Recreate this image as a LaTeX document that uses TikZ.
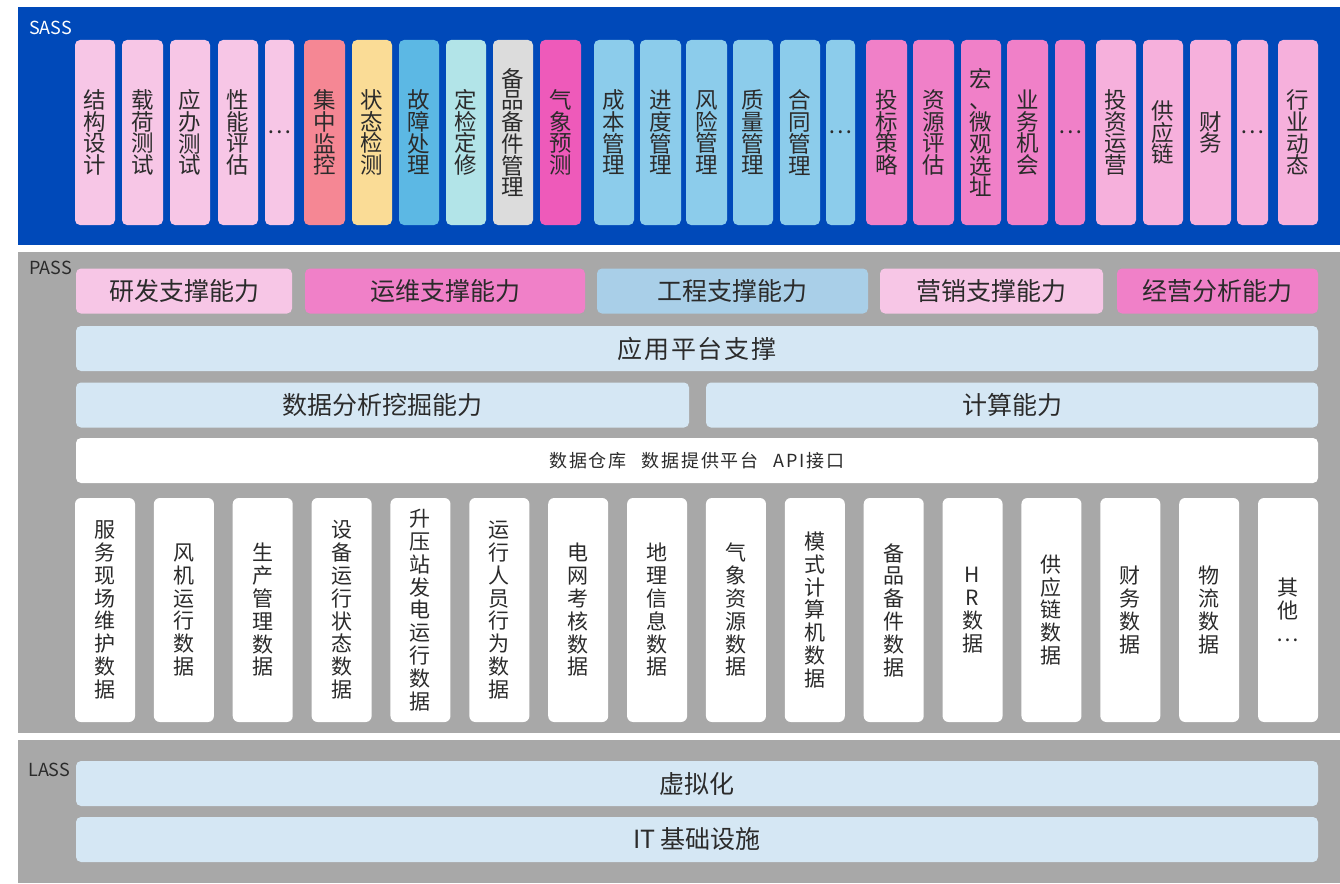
\documentclass[tikz,border=0pt]{standalone}
\usepackage{fontspec}
\setmainfont{Noto Sans CJK SC}
\usepackage{tikz}
\usetikzlibrary{calc,positioning}

\definecolor{sassblue}{HTML}{0049B9}
\definecolor{bandgray}{HTML}{A8A8A8}
\definecolor{barblue}{HTML}{D5E7F4}
\definecolor{txt}{HTML}{2B2B2B}
\definecolor{pinkA}{HTML}{F7C6E6}
\definecolor{redA}{HTML}{F58794}
\definecolor{yellowA}{HTML}{FADC96}
\definecolor{blueA}{HTML}{5CB8E4}
\definecolor{cyanA}{HTML}{B2E4E8}
\definecolor{grayA}{HTML}{DCDCDC}
\definecolor{magentaA}{HTML}{EE5ABA}
\definecolor{skyA}{HTML}{8CCCEB}
\definecolor{pinkB}{HTML}{F080C8}
\definecolor{pinkC}{HTML}{F6B0DC}
\definecolor{engblue}{HTML}{A9CFE8}

\begin{document}
\begin{tikzpicture}[x=1pt,y=-1pt,every text node part/.style={align=center}]
		\tikzstyle{every node}=[font=\fontsize{22.5}{21.7}\selectfont,text=txt,inner sep=0pt];
		\tikzstyle{app}=[rounded corners=5pt,minimum height=185pt];
		\tikzstyle{bar}=[rounded corners=5pt,fill=barblue,minimum height=45pt,font=\fontsize{25}{25}\selectfont];
		\tikzstyle{datacol}=[rounded corners=6pt,fill=white,minimum width=60pt,minimum height=224pt,font=\fontsize{21}{22.8}\selectfont];
		\tikzstyle{layer}=[font=\fontsize{18}{18}\selectfont,anchor=west];

		\useasboundingbox (0,0) rectangle (1340,883);
		\fill[sassblue] (18,7) rectangle (1340,245);
		\fill[bandgray] (18,252) rectangle (1340,733);
		\fill[bandgray] (18,740) rectangle (1340,883);

		\node[layer,text=white] (sass) at (29,28) {SASS};
		\node[layer] (pass) at (29,268) {PASS};
		\node[layer] (lass) at (28,770) {LASS};

		\foreach \x/\w/\c/\t [count=\i] in {
			75/40/pinkA/{结\\构\\设\\计}, 122/41/pinkA/{载\\荷\\测\\试}, 170/40/pinkA/{应\\办\\测\\试}, 218/40/pinkA/{性\\能\\评\\估}, 265/29/pinkA/{…},
			304/41/redA/{集\\中\\监\\控}, 352/40/yellowA/{状\\态\\检\\测}, 399/40/blueA/{故\\障\\处\\理}, 446/40/cyanA/{定\\检\\定\\修}, 493/40/grayA/{备\\品\\备\\件\\管\\理}, 540/41/magentaA/{气\\象\\预\\测},
			594/40/skyA/{成\\本\\管\\理}, 640/41/skyA/{进\\度\\管\\理}, 686/41/skyA/{风\\险\\管\\理}, 733/40/skyA/{质\\量\\管\\理}, 780/40/skyA/{合\\同\\管\\理}, 826/29/skyA/{…},
			866/41/pinkB/{投\\标\\策\\略}, 913/41/pinkB/{资\\源\\评\\估}, 961/40/pinkB/{宏\\、\\微\\观\\选\\址}, 1007/41/pinkB/{业\\务\\机\\会}, 1055/30/pinkB/{…},
			1096/40/pinkC/{投\\资\\运\\营}, 1143/40/pinkC/{供\\应\\链}, 1190/41/pinkC/{财\\务}, 1237/31/pinkC/{…}, 1278/40/pinkC/{行\\业\\动\\态}}
			\node[app,fill=\c,minimum width=\w] (app\i) at (\x+\w/2,132.5) {\t};

		\node[bar,fill=pinkA,minimum width=216pt] (rd) at (184,291) {研发支撑能力};
		\node[bar,fill=pinkB,minimum width=280pt] (om) at (445,291) {运维支撑能力};
		\node[bar,fill=engblue,minimum width=271pt] (eng) at (732.5,291) {工程支撑能力};
		\node[bar,fill=pinkA,minimum width=223pt] (mkt) at (991.5,291) {营销支撑能力};
		\node[bar,fill=pinkB,minimum width=201pt] (biz) at (1217.5,291) {经营分析能力};
		\node[bar,minimum width=1242pt] (platform) at (697,348.5) {\addfontfeatures{LetterSpace=7}应用平台支撑};
		\node[bar,minimum width=613pt] (mining) at (382.5,405) {数据分析挖掘能力};
		\node[bar,minimum width=612pt] (compute) at (1012,405) {计算能力};
		\node[bar,fill=white,minimum width=1242pt,font=\fontsize{18}{18}\selectfont] (warehouse) at (697,460.5) {\addfontfeatures{LetterSpace=10}数据仓库\hspace{15pt}数据提供平台\hspace{15pt}API接口};

		\foreach \t [count=\i] in {{服\\务\\现\\场\\维\\护\\数\\据}, {风\\机\\运\\行\\数\\据}, {生\\产\\管\\理\\数\\据}, {设\\备\\运\\行\\状\\态\\数\\据}, {升\\压\\站\\发\\电\\运\\行\\数\\据}, {运\\行\\人\\员\\行\\为\\数\\据}, {电\\网\\考\\核\\数\\据}, {地\\理\\信\\息\\数\\据}, {气\\象\\资\\源\\数\\据}, {模\\式\\计\\算\\机\\数\\据}, {备\\品\\备\\件\\数\\据}, {H\\R\\数\\据}, {供\\应\\链\\数\\据}, {财\\务\\数\\据}, {物\\流\\数\\据}, {其\\他\\…}}
			\node[datacol] (data\i) at ({105+(\i-1)*78.87},610) {\t};

		\node[bar,minimum width=1242pt] (virt) at (697,783.5) {虚拟化};
		\node[bar,minimum width=1242pt] (infra) at (697,839.5) {IT 基础设施};
	\end{tikzpicture}
\end{document}
